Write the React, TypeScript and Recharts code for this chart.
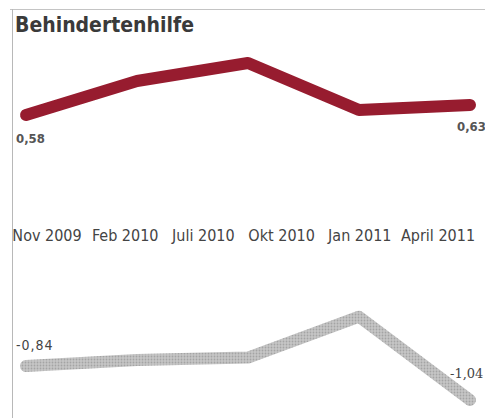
import React from "react";
import { LineChart, Line, XAxis, YAxis, LabelList } from "recharts";

// x-axis labels shown between the two panels
const periods = ["Nov 2009", "Feb 2010", "Juli 2010", "Okt 2010", "Jan 2011", "April 2011"];
// vertices of the two lines (left to right)
const pointIdx = [0, 1, 2, 3, 4];
const redValues = [0.58, 0.75, 0.84, 0.605, 0.63];
const grayValues = [-0.84, -0.805, -0.79, -0.55, -1.04];
const redLabels = ["0,58", "", "", "", "0,63"];
const grayLabels = ["-0,84", "", "", "", "-1,04"];

const topData = pointIdx.map((i) => ({ i, v: redValues[i], label: redLabels[i] }));
const bottomData = pointIdx.map((i) => ({ i, v: grayValues[i], label: grayLabels[i] }));
const periodData = periods.map((name) => ({ name, v: 0 }));

const COND = "'DejaVu Sans Condensed', 'DejaVu Sans', sans-serif";
const W = 485;

const redLabel = (props: any) => {
  const { x, y, value, index } = props;
  if (!value) return null;
  const dx = index === 0 ? -10 : -13;
  const dy = index === 0 ? 28 : 26;
  return (
    <text x={x + dx} y={y + dy} fontFamily={COND} fontWeight="bold" fontSize={13} fill="#555">
      {value}
    </text>
  );
};

const grayLabel = (props: any) => {
  const { x, y, value, index } = props;
  if (!value) return null;
  if (index === 0) {
    return (
      <text x={x - 10} y={y - 16} fontFamily={COND} fontSize={14} fill="#444" letterSpacing={1}>
        {value}
      </text>
    );
  }
  return (
    <text x={x - 20} y={y - 22} fontFamily="'DejaVu Serif', serif" fontSize={13} fill="#444">
      {value}
    </text>
  );
};

export default function App() {
  return (
    <div style={{ position: "absolute", left: 0, top: 0, width: W, height: 418, background: "#fff", overflow: "hidden" }}>
      <div style={{ position: "absolute", left: 10, top: 9, width: W - 10, height: 0, borderTop: "1.5px solid #c4c4c4" }} />
      <div style={{ position: "absolute", left: 12, top: 9, width: 0, height: 409, borderLeft: "1.5px solid #b8b8b8" }} />
      <div
        style={{
          position: "absolute",
          left: 15,
          top: 15,
          fontFamily: COND,
          fontWeight: "bold",
          fontSize: 21,
          lineHeight: "21px",
          color: "#3a3a3a",
        }}
      >
        Behindertenhilfe
      </div>

      {/* period labels */}
      <div style={{ position: "absolute", left: 0, top: 200 }}>
        <LineChart width={W} height={80} data={periodData} margin={{ top: 0, right: 15, left: 26, bottom: 0 }}>
          <XAxis
            dataKey="name"
            type="category"
            interval={0}
            axisLine={false}
            tickLine={false}
            tickSize={0}
            tickMargin={0}
            height={50}
            padding={{ left: 21, right: 32 }}
            tick={{ fontFamily: COND, fontSize: 16, fill: "#444" }}
          />
          <YAxis hide />
          <Line dataKey="v" stroke="none" dot={false} isAnimationActive={false} />
        </LineChart>
      </div>

      {/* red panel */}
      <div style={{ position: "absolute", left: 0, top: 0 }}>
        <LineChart width={W} height={220} data={topData} margin={{ top: 40, right: 15, left: 26, bottom: 0 }}>
          <XAxis dataKey="i" type="category" hide />
          <YAxis hide domain={[0.055, 0.955]} allowDataOverflow />
          <Line
            dataKey="v"
            stroke="#971c2f"
            strokeWidth={12}
            strokeLinecap="round"
            strokeLinejoin="round"
            dot={false}
            isAnimationActive={false}
          >
            <LabelList dataKey="label" content={redLabel} />
          </Line>
        </LineChart>
      </div>

      {/* gray panel */}
      <div style={{ position: "absolute", left: 0, top: 250 }}>
        <LineChart width={W} height={168} data={bottomData} margin={{ top: 20, right: 15, left: 26, bottom: 10 }}>
          <defs>
            <pattern id="grayDots" patternUnits="userSpaceOnUse" width="3" height="3">
              <rect width="3" height="3" fill="#c6c6c6" />
              <circle cx="1.5" cy="1.5" r="0.9" fill="#a4a4a4" />
            </pattern>
          </defs>
          <XAxis dataKey="i" type="category" hide />
          <YAxis hide domain={[-1.087, -0.275]} allowDataOverflow />
          <Line
            dataKey="v"
            stroke="url(#grayDots)"
            strokeWidth={12}
            strokeLinecap="round"
            strokeLinejoin="round"
            dot={false}
            isAnimationActive={false}
          >
            <LabelList dataKey="label" content={grayLabel} />
          </Line>
        </LineChart>
      </div>
    </div>
  );
}
